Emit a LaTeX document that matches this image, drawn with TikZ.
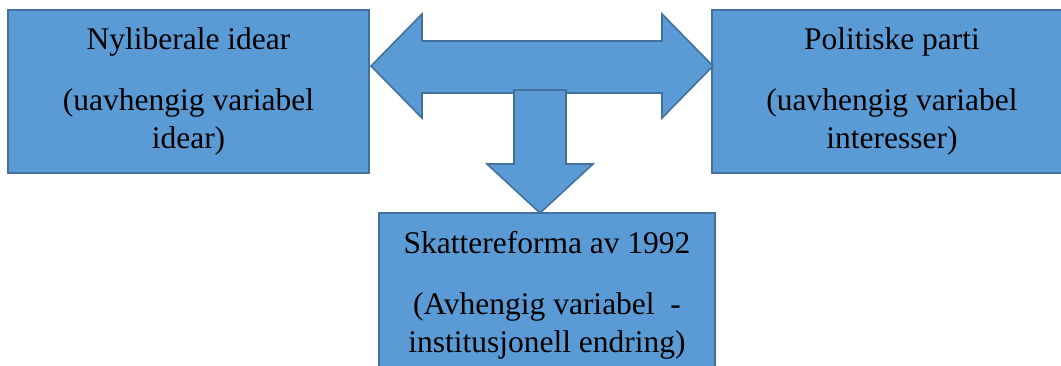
\documentclass[tikz,border=0pt]{standalone}
\usepackage{fontspec}
\setmainfont{Liberation Serif}
\definecolor{boxfill}{HTML}{5B9BD5}
\definecolor{boxline}{HTML}{41719C}
\begin{document}
\begin{tikzpicture}[x=1pt,y=-1pt,
  blockbox/.style={draw=boxline,fill=boxfill,line width=1.6pt,inner sep=0pt,
    align=center,font=\fontsize{31.5}{38}\selectfont},
  blockarrow/.style={draw=boxline,fill=boxfill,line width=1.6pt,line join=miter}]
\useasboundingbox (0,0) rectangle (1061,365);
\clip (0,0) rectangle (1061,365);
\node[blockbox,minimum width=361pt,minimum height=163pt] (L) at (188.5,91.5)
  {Nyliberale idear\\[23pt](uavhengig variabel\\idear)};
\node[blockbox,minimum width=360pt,minimum height=163pt] (R) at (892,91.5)
  {Politiske parti\\[23pt](uavhengig variabel\\interesser)};
\node[blockbox,minimum width=336pt,minimum height=165pt] (B) at (547,295.5)
  {Skattereforma av 1992\\[23pt](Avhengig variabel\ \ -\\institusjonell endring)};
\coordinate (lt) at (371,66);
\coordinate (rt) at (713,66);
\coordinate (dt) at (540,213);
\draw[blockarrow] (lt) -- (422,14) -- (422,41) -- (662,41) -- (662,14) -- (rt)
  -- (662,118) -- (662,93) -- (422,93) -- (422,118) -- cycle;
\draw[blockarrow] (514,90) -- (566,90) -- (566,164) -- (593,164) -- (dt)
  -- (487,164) -- (514,164) -- cycle;
\end{tikzpicture}
\end{document}
